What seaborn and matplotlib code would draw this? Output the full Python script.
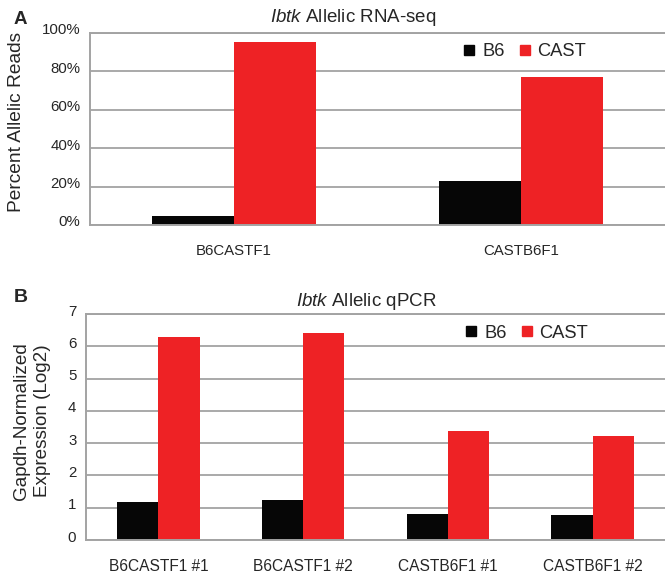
import matplotlib
matplotlib.use("Agg")
import matplotlib.pyplot as plt
import matplotlib.transforms as mtransforms
from matplotlib.lines import Line2D
import seaborn as sns
import pandas as pd

# ---- data ----
rna_crosses = ["B6CASTF1", "CASTB6F1"]
rna_b6 = [4.5, 23.0]
rna_cast = [95.5, 77.0]

qpcr_samples = ["B6CASTF1 #1", "B6CASTF1 #2", "CASTB6F1 #1", "CASTB6F1 #2"]
qpcr_b6 = [1.19, 1.24, 0.79, 0.77]
qpcr_cast = [6.28, 6.40, 3.37, 3.23]

alleles = ["B6", "CAST"]
pct_ticks = [0, 20, 40, 60, 80, 100]
pct_tick_labels = ["0%", "20%", "40%", "60%", "80%", "100%"]
log_ticks = [0, 1, 2, 3, 4, 5, 6, 7]

colors = {"B6": "#060606", "CAST": "#ee2225"}

sns.set_theme(style="white")
plt.rcParams["font.family"] = ["Liberation Sans", "DejaVu Sans"]
plt.rcParams["mathtext.fontset"] = "custom"
plt.rcParams["mathtext.rm"] = "Liberation Sans"
plt.rcParams["mathtext.it"] = "Liberation Sans:italic"

W, H = 665, 573
fig = plt.figure(figsize=(W / 100, H / 100), dpi=100)


def px_axes(left, top, right, bottom):
    return fig.add_axes([left / W, 1 - bottom / H, (right - left) / W, (bottom - top) / H])


def long_table(cats, b6, cast, cat_name, val_name):
    return pd.DataFrame({
        cat_name: list(cats) * 2,
        "allele": ["B6"] * len(cats) + ["CAST"] * len(cats),
        val_name: list(b6) + list(cast),
    })


grid_color = "#a3a3a3"


def style_axes(ax, ymax, yticks, ylabels, xfs):
    ax.set_ylim(0, ymax)
    ax.set_xlim(-0.5, len(ax.get_xticks()) - 0.5)
    ax.set_yticks(yticks)
    ax.set_yticklabels(ylabels, fontsize=10.8)
    ax.yaxis.grid(True, color=grid_color, linewidth=1.3)
    ax.xaxis.grid(False)
    ax.set_axisbelow(True)
    ax.tick_params(axis="both", length=0)
    ax.tick_params(axis="y", pad=7)
    ax.tick_params(axis="x", pad=14, labelsize=xfs)
    for side in ["left", "bottom", "top"]:
        ax.spines[side].set_visible(True)
        ax.spines[side].set_color(grid_color)
        ax.spines[side].set_linewidth(1.4)
    ax.spines["right"].set_visible(False)
    ax.set_xlabel("")
    ax.set_ylabel("")
    if ax.get_legend() is not None:
        ax.get_legend().remove()
    # tick labels sit slightly above their gridlines
    shift = mtransforms.ScaledTranslation(0, 4 / 100, fig.dpi_scale_trans)
    for lab in ax.get_yticklabels():
        lab.set_transform(lab.get_transform() + shift)


def add_legend(x_left, y_center):
    handles = [Line2D([], [], marker="s", linestyle="", markersize=7.5,
                      markerfacecolor=colors[a], markeredgecolor=colors[a]) for a in alleles]
    fig.legend(handles, alleles, loc="center left",
               bbox_to_anchor=(x_left / W, 1 - y_center / H),
               ncol=2, frameon=False, fontsize=13.2, borderpad=0, borderaxespad=0,
               handlelength=0.8, handletextpad=0.3, columnspacing=0.7)


# ---- panel A: allelic RNA-seq ----
axA = px_axes(90, 33, 665, 225)
dfA = long_table(rna_crosses, rna_b6, rna_cast, "cross", "pct")
sns.barplot(data=dfA, x="cross", y="pct", hue="allele", palette=colors,
            hue_order=alleles, order=rna_crosses, width=0.57, saturation=1,
            linewidth=0, ax=axA)
style_axes(axA, 100, pct_ticks, pct_tick_labels, 10.8)
add_legend(462, 52)
fig.text(353 / W, 1 - 18 / H, r"$\it{Ibtk}$ Allelic RNA-seq", ha="center", va="center", fontsize=13.5)
fig.text(17 / W, 1 - 122 / H, "Percent Allelic Reads", rotation=90,
         ha="center", va="center", fontsize=13.8)
fig.text(20 / W, 1 - 20 / H, "A", ha="center", va="center", fontsize=13.5, fontweight="bold")

# ---- panel B: allelic qPCR ----
axB = px_axes(86, 314, 665, 540)
dfB = long_table(qpcr_samples, qpcr_b6, qpcr_cast, "sample", "expr")
sns.barplot(data=dfB, x="sample", y="expr", hue="allele", palette=colors,
            hue_order=alleles, order=qpcr_samples, width=0.57, saturation=1,
            linewidth=0, ax=axB)
style_axes(axB, 7, log_ticks, [str(t) for t in log_ticks], 11.2)
add_legend(464, 333)
fig.text(366 / W, 1 - 301 / H, r"$\it{Ibtk}$ Allelic qPCR", ha="center", va="center", fontsize=13.5)
fig.text(32 / W, 1 - 421 / H, "Gapdh-Normalized\nExpression (Log2)", rotation=90,
         ha="center", va="center", multialignment="center", fontsize=13.6, linespacing=1.25)
fig.text(21 / W, 1 - 298 / H, "B", ha="center", va="center", fontsize=14, fontweight="bold")

fig.savefig("out.png", dpi=100)
